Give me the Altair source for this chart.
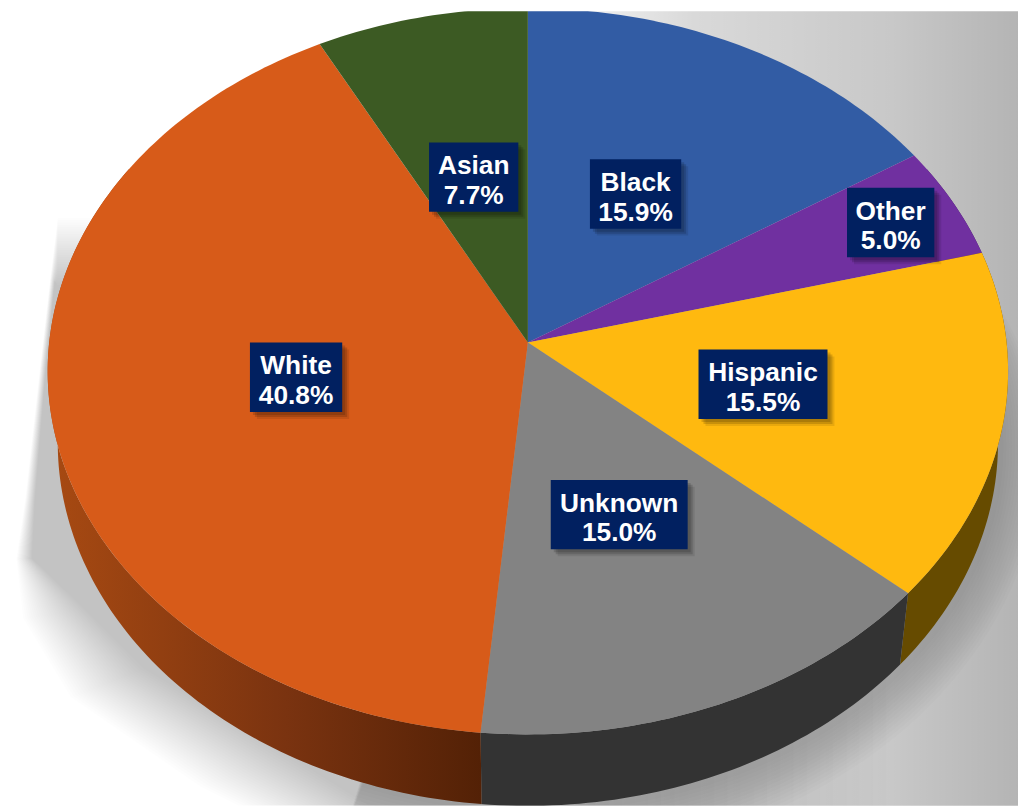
import math
import altair as alt

# ---- chart values (share of total, clockwise from 12 o'clock)
categories = ["Black", "Other", "Hispanic", "Unknown", "White", "Asian"]
shares = [15.9, 5.0, 15.5, 15.0, 40.8, 7.7]

# ---- styling
top_colors = ["#325CA4", "#7030A0", "#FFB90F", "#838383", "#D75B19", "#3C5A23"]
side_colors = ["#1E3762", "#431D60", "#664B00", "#333333", None, "#243615"]
label_radius = [0.485, 0.85, 0.5, 0.495, 0.49, 0.49]
box_widths = [92, 88, 130, 138, 93, 90]
BOX_H = 70
W, H = 1026, 809
M = 8

# ---- perspective model of the tilted disc
CX, CY, K, A, B = 532, 342, 0.0792, 482.5, 363.7
DEPTH, SHRINK = 72, 0.979


def disc(deg, r=1.0):
    t = math.radians(deg)
    u, v = r * math.sin(t), r * math.cos(t)
    w = 1 + K * v
    return CX + A * u / w, CY - B * v / w


def lower(deg):
    x, y = disc(deg)
    return CX + SHRINK * (x - CX), y + DEPTH


def feature(pts, **props):
    ring = [[round(x, 2), round(y, 2)] for x, y in pts]
    ring.append(ring[0])
    return {"type": "Feature", "properties": props,
            "geometry": {"type": "Polygon", "coordinates": [ring]}}


def frange(a, b, step=1.0):
    n = max(2, int(abs(b - a) / step) + 1)
    return [a + (b - a) * i / (n - 1) for i in range(n)]


total = sum(shares)
bounds = [0.0]
for s in shares:
    bounds.append(bounds[-1] + s / total * 360)

top, side, boxes = [], [], []
white_side = None
for i, cat in enumerate(categories):
    a, b = bounds[i], bounds[i + 1]
    top.append(feature([(CX, CY)] + [disc(t) for t in frange(a, b)], fill=top_colors[i]))
    a2, b2 = max(a, 60), min(b, 300)
    if a2 < b2:
        ts = frange(a2, b2)
        poly = feature([disc(t) for t in ts] + [lower(t) for t in reversed(ts)],
                       fill=side_colors[i] or "#000000")
        if cat == "White":
            white_side = poly
        else:
            side.append(poly)
    mx, my = disc((a + b) / 2, label_radius[i])
    boxes.append({"cat": cat, "text": f"{cat}\n{shares[i]:.1f}%", "x": mx, "y": my,
                  "x0": mx - box_widths[i] / 2, "x1": mx + box_widths[i] / 2,
                  "y0": my - BOX_H / 2, "y1": my + BOX_H / 2})

# ---- backdrop shadow: soft-edged grey shape, feathered by stacking faint copies
outline = [(58, 215, 0, 70), (50, 280, 5, 0), (40, 367, 6, 0), (25, 500, 10, 0), (16, 560, 16, 0),
           (22, 620, 65, -8), (70, 700, 75, -30), (200, 790, 95, -30), (280, 830, 95, -20),
           (900, 830, -400, 0), (900, 215, -400, 70)]
N = 30
soft = []
alpha = 1 - (1 - 0.19) ** (1 / N)
for k in range(N):
    f = (k + 0.5) / N
    soft.append(feature([(x + dx * f, y + dy * f) for x, y, dx, dy in outline], op=alpha))

halo = []
NH = 14
for k in range(NH):
    f = (k + 0.5) / NH
    ts = frange(60, 200, 2)
    pts = [(lambda p: (p[0] + 4 + 42 * (1 - f) * math.sin(math.radians(t)),
                       p[1] + 4 + 52 * (1 - f) * max(0.15, -math.cos(math.radians(t)))))(lower(t))
           for t in ts]
    pts = pts + [(CX, CY)]
    halo.append(feature(pts, op=0.012))


def geo(features, **mark):
    return alt.Chart(alt.Data(values=features)).mark_geoshape(strokeWidth=0, **mark).project(
        type="identity", scale=1, translate=[-M, -M])


def gradient(x1, y1, x2, y2, stops):
    return alt.Gradient(gradient="linear", x1=x1, y1=y1, x2=x2, y2=y2,
                        stops=[alt.GradientStop(offset=o, color=c) for o, c in stops])


right_wash = geo([feature([(420, 0), (1040, 0), (1040, 830), (420, 830)])],
                 fill=gradient(0, 0, 1, 0, [(0, "rgba(0,0,0,0)"), (0.16, "rgba(0,0,0,0)"),
                                            (0.45, "rgba(0,0,0,0.15)"), (0.77, "rgba(0,0,0,0.215)"),
                                            (1, "rgba(0,0,0,0.30)")]))
lower_soft = geo(soft, fill="#000000").encode(opacity=alt.Opacity("properties.op:Q", scale=None))
halo_layer = geo(halo, fill="#000000").encode(opacity=alt.Opacity("properties.op:Q", scale=None))

side_layer = geo(side).encode(fill=alt.Fill("properties.fill:N", scale=None))
white_layer = geo([white_side], fill=gradient(0, 0, 1, 0, [(0, "#A84A12"), (0.55, "#7A3310"), (1, "#532106")]))
top_layer = geo(top).encode(fill=alt.Fill("properties.fill:N", scale=None))

xs = alt.Scale(domain=[M, W], range=[0, W - M])
ys = alt.Scale(domain=[M, H], range=[0, H - M])
no_axis = dict(axis=None)
box_base = alt.Chart(alt.Data(values=boxes))


def box_shadow(dx, dy, op):
    return box_base.transform_calculate(
        a=f"datum.x0+{dx}", b=f"datum.x1+{dx}", c=f"datum.y0+{dy}", d=f"datum.y1+{dy}"
    ).mark_rect(color="#000000", opacity=op).encode(
        x=alt.X("a:Q", scale=xs, **no_axis), x2="b:Q",
        y=alt.Y("c:Q", scale=ys, **no_axis), y2="d:Q")


shadow_layers = [box_shadow(7, 7, 0.09), box_shadow(5, 5, 0.14), box_shadow(3, 3, 0.14)]
rects = box_base.mark_rect(color="#012060").encode(
    x=alt.X("x0:Q", scale=xs, **no_axis), x2="x1:Q",
    y=alt.Y("y0:Q", scale=ys, **no_axis), y2="y1:Q")
labels = box_base.mark_text(color="#ffffff", font="Liberation Sans", fontWeight="bold", fontSize=26.5,
                            lineBreak="\n", lineHeight=30, align="center", baseline="middle", dy=-11).encode(
    x=alt.X("x:Q", scale=xs, **no_axis), y=alt.Y("y:Q", scale=ys, **no_axis), text="text:N")

chart = alt.layer(lower_soft, right_wash, halo_layer, side_layer, white_layer, top_layer,
                  *shadow_layers, rects, labels).properties(
    width=W - M, height=H - M, padding=0, autosize=alt.AutoSizeParams(type="none")
).configure_view(stroke=None)

chart.save("out.html", embed_options={"renderer": "svg", "actions": False})
